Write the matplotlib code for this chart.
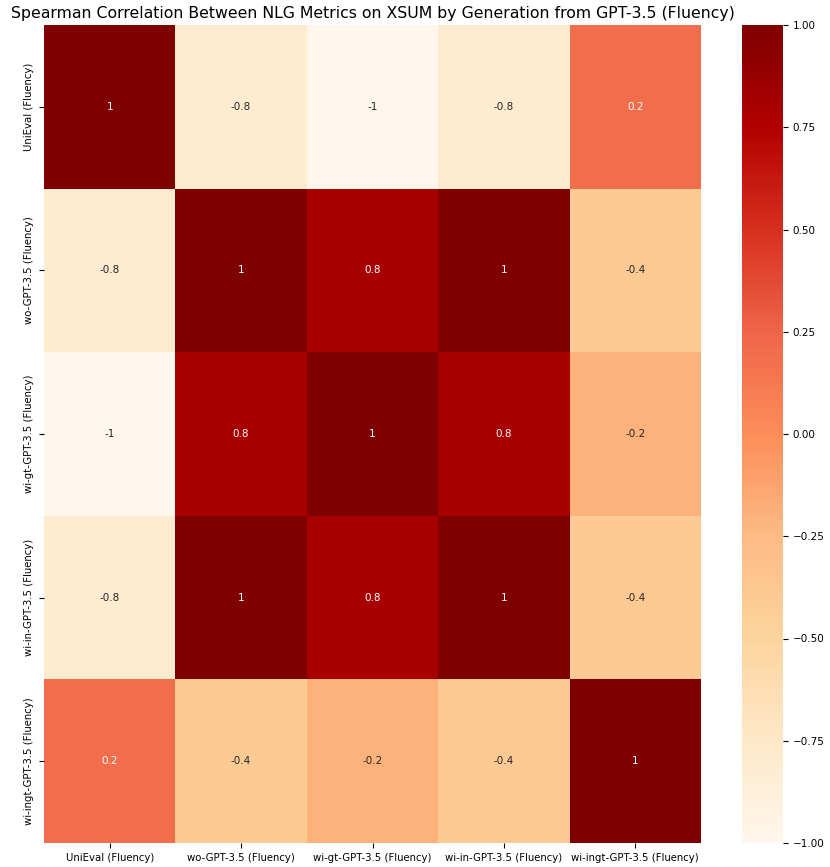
import numpy as np
import matplotlib
matplotlib.use('Agg')
import matplotlib.pyplot as plt
import seaborn as sns

labels = ['UniEval (Fluency)', 'wo-GPT-3.5 (Fluency)', 'wi-gt-GPT-3.5 (Fluency)',
          'wi-in-GPT-3.5 (Fluency)', 'wi-ingt-GPT-3.5 (Fluency)']
corr = np.array([
    [1.0, -0.8, -1.0, -0.8, 0.2],
    [-0.8, 1.0, 0.8, 1.0, -0.4],
    [-1.0, 0.8, 1.0, 0.8, -0.2],
    [-0.8, 1.0, 0.8, 1.0, -0.4],
    [0.2, -0.4, -0.2, -0.4, 1.0],
])

W, H = 830, 867
fig = plt.figure(figsize=(W / 100, H / 100), dpi=100)
ax = fig.add_axes([44 / W, 1 - 843 / H, 657 / W, 818 / H])
cax = fig.add_axes([742 / W, 1 - 843 / H, 41 / W, 818 / H])

sns.heatmap(corr, annot=True, cmap='OrRd', vmin=-1, vmax=1,
            xticklabels=labels, yticklabels=labels, ax=ax, cbar_ax=cax,
            annot_kws={'fontsize': 7.5})
ax.tick_params(labelsize=7.3)
plt.setp(ax.get_xticklabels(), rotation=0)
plt.setp(ax.get_yticklabels(), rotation=90, va='center')
cax.tick_params(labelsize=7.5)
ax.set_title('Spearman Correlation Between NLG Metrics on XSUM by Generation from GPT-3.5 (Fluency)',
             fontsize=11.3, pad=5)

fig.savefig('out.png', dpi=100)
